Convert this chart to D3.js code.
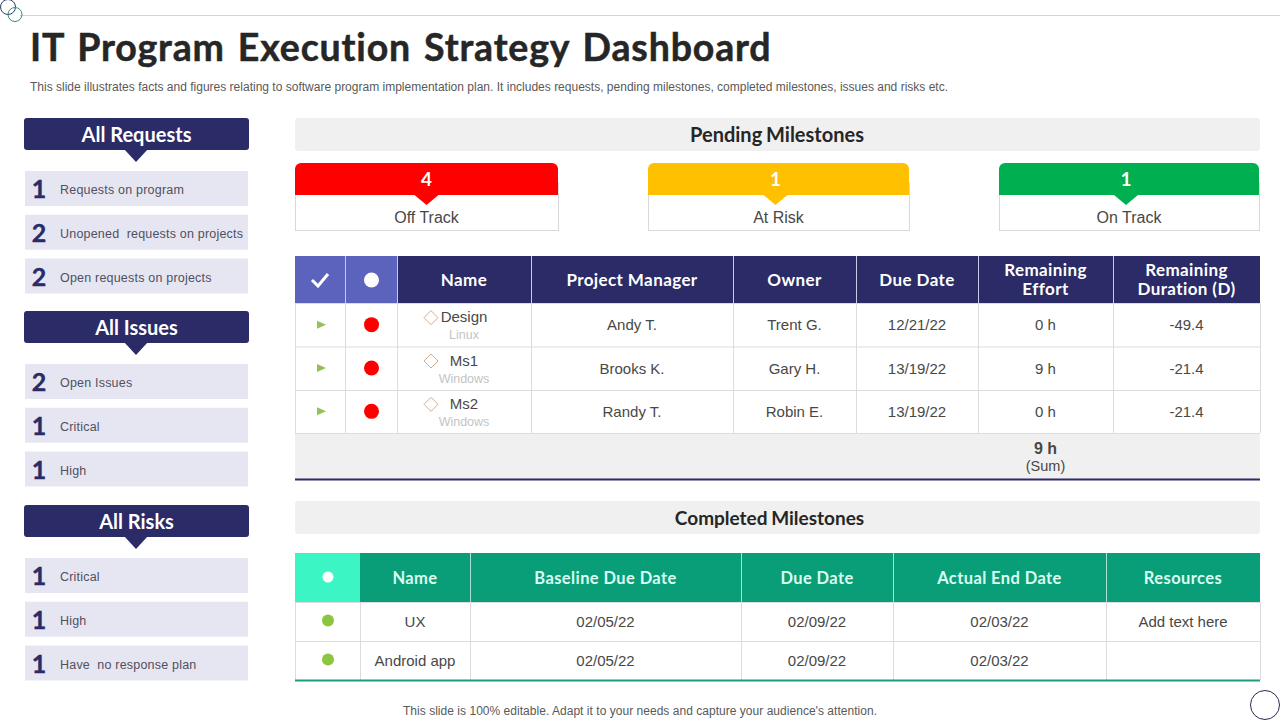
<!DOCTYPE html>
<html>
<head>
<meta charset="utf-8">
<script src="https://cdn.jsdelivr.net/npm/d3@7"></script>
<style>
html, body { margin: 0; padding: 0; background: #fff; }
svg { display: block; }
text { font-family: "Liberation Sans", Arial, sans-serif; white-space: pre; }
.head { font-family: Lato, "Open Sans", sans-serif; font-weight: 700; }
</style>
</head>
<body>
<svg id="slide" width="1280" height="720"></svg>
<script>
// text
var title = "IT Program Execution Strategy Dashboard";
var subtitle = "This slide illustrates facts and figures relating to software program implementation plan. It includes requests, pending milestones, completed milestones, issues and risks etc.";
var footer = "This slide is 100% editable. Adapt it to your needs and capture your audience's attention.";

// left side panels
var panelNames = ["All Requests", "All Issues", "All Risks"];
var requestCounts = [1, 2, 2];
var requestLabels = ["Requests on program", "Unopened  requests on projects", "Open requests on projects"];
var issueCounts = [2, 1, 1];
var issueLabels = ["Open Issues", "Critical", "High"];
var riskCounts = [1, 1, 1];
var riskLabels = ["Critical", "High", "Have  no response plan"];

// status cards
var statusNames = ["Off Track", "At Risk", "On Track"];
var statusCounts = [4, 1, 1];
var statusColors = ["#ff0000", "#ffc000", "#00b050"];

// pending table
var pendingHeaders = ["Name", "Project Manager", "Owner", "Due Date", "Remaining|Effort", "Remaining|Duration (D)"];
var pendingNames = ["Design", "Ms1", "Ms2"];
var pendingOs = ["Linux", "Windows", "Windows"];
var pendingManagers = ["Andy T.", "Brooks K.", "Randy T."];
var pendingOwners = ["Trent G.", "Gary H.", "Robin E."];
var pendingDue = ["12/21/22", "13/19/22", "13/19/22"];
var pendingEffort = [0, 9, 0];
var pendingDuration = [-49.4, -21.4, -21.4];

// completed table
var doneHeaders = ["Name", "Baseline Due Date", "Due Date", "Actual End Date", "Resources"];
var doneNames = ["UX", "Android app"];
var doneBaseline = ["02/05/22", "02/05/22"];
var doneDue = ["02/09/22", "02/09/22"];
var doneEnd = ["02/03/22", "02/03/22"];
var doneResources = ["Add text here", ""];

var navy = "#2a2b67", ink = "#484848", grid = "#dcdcdc";
var svg = d3.select("#slide");

function label(g, x, y, str, size, color, anchor, cls) {
	return g.append("text")
		.attr("x", x).attr("y", y)
		.attr("text-anchor", anchor || "middle")
		.attr("class", cls || null)
		.attr("font-size", size)
		.attr("fill", color)
		.text(str);
}

function rect(g, x, y, w, h, fill, r) {
	return g.append("rect")
		.attr("x", x).attr("y", y)
		.attr("width", w).attr("height", h)
		.attr("rx", r || 0)
		.attr("fill", fill);
}

// header rule and corner circles
svg.append("line").attr("x1", 20).attr("x2", 1280).attr("y1", 15.5).attr("y2", 15.5).attr("stroke", "#d0d5da");
svg.append("circle").attr("cx", 8).attr("cy", 7).attr("r", 7.5).attr("fill", "none").attr("stroke", "#2f3a5f");
svg.append("circle").attr("cx", 15).attr("cy", 14.5).attr("r", 7).attr("fill", "none").attr("stroke", "#2f8f84");
svg.append("circle").attr("cx", 1265).attr("cy", 705).attr("r", 14.5).attr("fill", "none").attr("stroke", "#2a2b50");

label(svg, 30, 61, title, 37.5, "#262626", "start", "head")
	.attr("letter-spacing", "0.85px").attr("word-spacing", "3px")
	.attr("stroke", "#262626").attr("stroke-width", 0.5);
label(svg, 30, 91, subtitle, 12, "#595959", "start").attr("textLength", 918).attr("lengthAdjust", "spacing");
label(svg, 640, 715, footer, 12, "#595959").attr("textLength", 474).attr("lengthAdjust", "spacing");

// left panels
var panelY = d3.scaleOrdinal().domain(panelNames).range([118, 311, 505]);
var itemY = d3.scaleBand().domain([0, 1, 2]).range([53, 175.5]).paddingInner(0.2);
var panelRows = [
	[requestCounts, requestLabels],
	[issueCounts, issueLabels],
	[riskCounts, riskLabels]
];

panelNames.forEach(function(name, i) {
	var g = svg.append("g").attr("transform", "translate(0," + panelY(name) + ")");
	rect(g, 24, 0, 225, 32, navy, 3);
	g.append("path").attr("d", "M124 31L136 44L148 31Z").attr("fill", navy);
	label(g, 136.5, 23.5, name, 20, "#fff", "middle", "head");
	panelRows[i][0].forEach(function(count, j) {
		var y = itemY(j);
		rect(g, 25, y, 223, itemY.bandwidth(), "#e6e6f3");
		label(g, 39, y + 27, count, 25, navy, "middle", "head").attr("stroke", navy).attr("stroke-width", 0.4);
		label(g, 60, y + 23, panelRows[i][1][j], 12.5, "#50505f", "start").attr("letter-spacing", "0.2px");
	});
});

// section bars
function sectionBar(y, str, cx, size) {
	rect(svg, 295, y, 965, 33, "#f0f0f0", 3);
	label(svg, cx, y + 23.5, str, size, "#262626", "middle", "head").attr("word-spacing", "-1px");
}
sectionBar(118, "Pending Milestones", 777, 20);
sectionBar(501, "Completed Milestones", 769.5, 19);

// status cards
var cardX = d3.scaleOrdinal().domain(statusNames).range([295, 648, 999]);
var cardW = d3.scaleOrdinal().domain(statusNames).range([263, 261, 260]);
var cardPeak = d3.scaleOrdinal().domain(statusNames).range([131.5, 127.5, 127]);
statusNames.forEach(function(name, i) {
	var g = svg.append("g").attr("transform", "translate(" + cardX(name) + ",163)");
	var w = cardW(name), mid = w / 2, peak = cardPeak(name);
	g.append("rect").attr("x", 0.5).attr("y", 20).attr("width", w).attr("height", 47.5)
		.attr("fill", "#fff").attr("stroke", "#d9d9d9");
	rect(g, 0, 0, w, 32, statusColors[i], 6);
	rect(g, 0, 20, w, 12, statusColors[i]);
	g.append("path").attr("d", "M" + (peak - 12) + " 32L" + peak + " 42L" + (peak + 12) + " 32Z").attr("fill", statusColors[i]);
	label(g, peak, 23, statusCounts[i], 19, "#fff", "middle", "head");
	label(g, mid, 60, name, 16, ink);
});

// draws the body grid of a table from its column edges and row edges
function cellLines(g, edges, rowEdges, color) {
	edges.forEach(function(x) {
		g.append("line").attr("x1", x + 0.5).attr("x2", x + 0.5)
			.attr("y1", rowEdges[0]).attr("y2", rowEdges[rowEdges.length - 1])
			.attr("stroke", color);
	});
	rowEdges.forEach(function(y) {
		g.append("line").attr("x1", edges[0]).attr("x2", edges[edges.length - 1])
			.attr("y1", y + 0.5).attr("y2", y + 0.5)
			.attr("stroke", color);
	});
}

// pending table
var pendingEdges = [295, 345, 397, 531, 733, 856, 978, 1113, 1260];
var pendingRows = d3.scaleBand().domain([0, 1, 2]).range([303, 433]);
var pg = svg.append("g");

rect(pg, 295, 256, 102, 47, "#5b63bd");
rect(pg, 397, 256, 863, 47, navy);
rect(pg, 295, 433, 965, 46, "#f0f0f0");
cellLines(pg, pendingEdges, [303, 346.5, 390, 433], grid);
pendingEdges.slice(1, -1).forEach(function(x) {
	pg.append("line").attr("x1", x + 0.5).attr("x2", x + 0.5).attr("y1", 256).attr("y2", 303).attr("stroke", "#c9cbe4");
});
pg.append("line").attr("x1", 295).attr("x2", 1260).attr("y1", 479.5).attr("y2", 479.5).attr("stroke", navy).attr("stroke-width", 2);

pg.append("path").attr("d", "M312 280L318 286L328 274").attr("fill", "none").attr("stroke", "#fff").attr("stroke-width", 3);
pg.append("circle").attr("cx", 371.5).attr("cy", 280).attr("r", 7.5).attr("fill", "#fff");

pendingHeaders.forEach(function(str, i) {
	var cx = (pendingEdges[i + 2] + pendingEdges[i + 3]) / 2;
	var parts = str.split("|");
	parts.forEach(function(p, k) {
		var y = parts.length == 1 ? 286 : 276 + k * 19;
		label(pg, cx, y, p, 17, "#fff", "middle", "head").attr("letter-spacing", "0.4px");
	});
});

var pendingCols = [pendingManagers, pendingOwners, pendingDue];
pendingNames.forEach(function(name, i) {
	var y = pendingRows(i), h = pendingRows.bandwidth(), mid = y + h / 2;
	pg.append("path").attr("d", "M317 " + (mid - 4) + "L326 " + mid + "L317 " + (mid + 4) + "Z").attr("fill", "#92c353");
	pg.append("circle").attr("cx", 371.5).attr("cy", mid).attr("r", 7.5).attr("fill", "#ff0000");
	var dx = 431;
	pg.append("path").attr("d", "M" + (dx - 7) + " " + (mid - 7) + "L" + dx + " " + (mid - 14) + "L" + (dx + 7) + " " + (mid - 7) + "L" + dx + " " + mid + "Z")
		.attr("fill", "none").attr("stroke", "#d4ab8a");
	label(pg, 464, mid - 2.5, name, 15, ink);
	label(pg, 464, mid + 14.5, pendingOs[i], 12.5, "#c4c4c4");
	pendingCols.forEach(function(col, c) {
		label(pg, (pendingEdges[c + 3] + pendingEdges[c + 4]) / 2, mid + 5.5, col[i], 15, ink);
	});
	label(pg, 1045.5, mid + 5.5, pendingEffort[i] + " h", 15, ink);
	label(pg, 1186.5, mid + 5.5, pendingDuration[i], 15, ink);
});
label(pg, 1045.5, 454, d3.sum(pendingEffort) + " h", 16, ink).attr("font-weight", 700);
label(pg, 1045.5, 471, "(Sum)", 14.5, ink);

// completed table
var doneEdges = [295, 360, 470, 741, 893, 1106, 1260];
var doneRows = d3.scaleBand().domain([0, 1]).range([602, 680]);
var dg = svg.append("g");

rect(dg, 295, 553, 65, 49, "#3cf5c5");
rect(dg, 360, 553, 900, 49, "#0a9e78");
cellLines(dg, doneEdges, [602, 641, 680], grid);
doneEdges.slice(2, -1).forEach(function(x) {
	dg.append("line").attr("x1", x + 0.5).attr("x2", x + 0.5).attr("y1", 553).attr("y2", 602).attr("stroke", "#a8e2d2");
});
dg.append("line").attr("x1", 295).attr("x2", 1260).attr("y1", 680.5).attr("y2", 680.5).attr("stroke", "#1e9c7e").attr("stroke-width", 2);
dg.append("circle").attr("cx", 328).attr("cy", 577).attr("r", 5.5).attr("fill", "#fff");

doneHeaders.forEach(function(str, i) {
	label(dg, (doneEdges[i + 1] + doneEdges[i + 2]) / 2, 584, str, 16.5, "#d9fff3", "middle", "head").attr("letter-spacing", "0.4px");
});

var doneCols = [doneNames, doneBaseline, doneDue, doneEnd, doneResources];
doneNames.forEach(function(name, i) {
	var mid = doneRows(i) + doneRows.bandwidth() / 2;
	dg.append("circle").attr("cx", 328).attr("cy", mid - 1).attr("r", 6).attr("fill", "#8cc63f");
	doneCols.forEach(function(col, c) {
		label(dg, (doneEdges[c + 1] + doneEdges[c + 2]) / 2, mid + 5, col[i], 15, ink);
	});
});
</script>
</body>
</html>
